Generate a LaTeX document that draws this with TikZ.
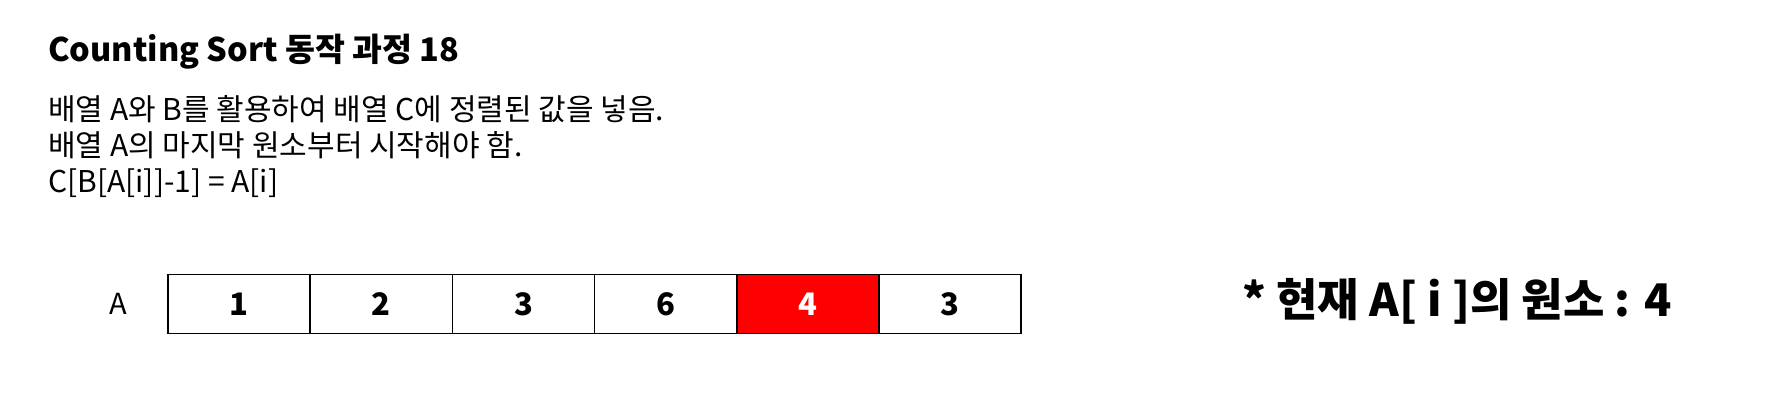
\documentclass[tikz,border=0pt]{standalone}
\usepackage{fontspec}
\setmainfont{Noto Sans CJK KR}
\usepackage{tikz}
\usetikzlibrary{positioning}

\begin{document}
\begin{tikzpicture}[
        x = 1pt, y = -1pt,
        cell/.style = {
                draw,
                line width = 1.6pt,
                fill = #1,
                minimum width = 142.2pt,
                minimum height = 59pt,
                inner sep = 0pt,
                outer sep = 0pt,
                font = \fontsize{31}{36}\selectfont\bfseries
            },
            cell/.default = white,
        body/.style = {
                anchor = base west,
                inner sep = 0pt,
                font = \fontsize{30}{36}\selectfont
            },
            node distance = {0pt}
        ]
        \useasboundingbox (0,0) rectangle (1770,412);

        \node[body, font=\fontsize{32.5}{38}\selectfont\bfseries] (title) at (48,62) {Counting Sort 동작 과정 18};
        \node[body] (line1) at (48,120) {배열 A와 B를 활용하여 배열 C에 정렬된 값을 넣음.};
        \node[body] (line2) at (48,156) {배열 A의 마지막 원소부터 시작해야 함.};
        \node[body] (line3) at (48,192) {C[B[A[i]]-1] = A[i]};

        \node[font=\fontsize{29}{34}\selectfont] (lblA) at (118.5,304) {A};
        \node[cell] (a1) at (239.1,304) {1};
        \node[cell, right=of a1] (a2) {2};
        \node[cell, right=of a2] (a3) {3};
        \node[cell, right=of a3] (a4) {6};
        \node[cell=red, text=white, right=of a4] (a5) {4};
        \node[cell, right=of a5] (a6) {3};

        \node[body, font=\fontsize{45}{52}\selectfont\bfseries] (cur) at (1242,316) {* 현재 A[ i ]의 원소 : 4};
    \end{tikzpicture}
\end{document}
